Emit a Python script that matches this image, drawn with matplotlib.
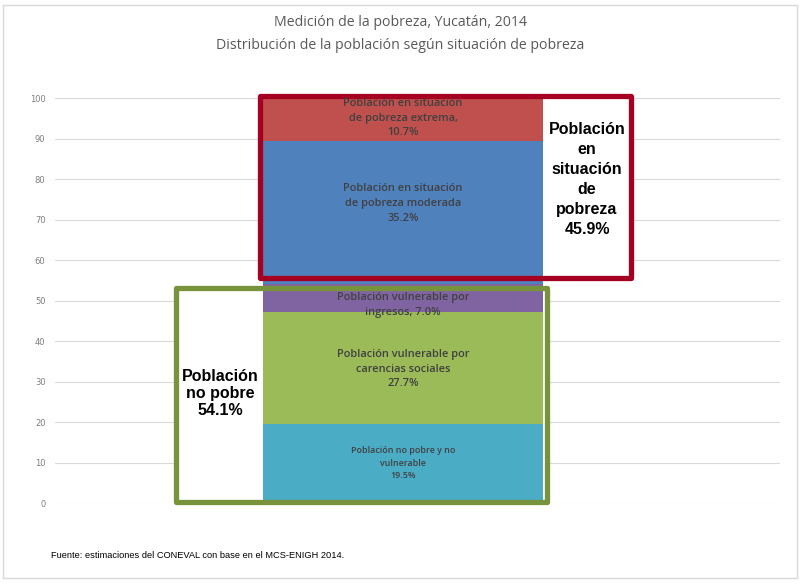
import matplotlib
matplotlib.use("Agg")
import matplotlib.pyplot as plt
from matplotlib.patches import Rectangle

# datos (porcentajes)
segmentos = ["no_pobre", "vul_carencias", "vul_ingresos", "pob_moderada", "pob_extrema"]
valores = [19.5, 27.7, 7.0, 35.2, 10.7]
colores = ["#4BACC6", "#9BBB59", "#8064A2", "#4F81BD", "#C0504D"]
etiquetas = [
    "Población no pobre y no\nvulnerable\n19.5%",
    "Población vulnerable por\ncarencias sociales\n27.7%",
    "Población vulnerable por\ningresos, 7.0%",
    "Población en situación\nde pobreza moderada\n35.2%",
    "Población en situación\nde pobreza extrema,\n10.7%",
]
etiqueta_size = [6.4, 7.9, 7.9, 7.9, 7.9]
etiqueta_dy = [0.15, -0.25, -1.8, 2.2, 0.3]
total_pobreza = 45.9
total_no_pobre = 54.1

fig = plt.figure(figsize=(8, 5.85), dpi=100)
fig.patch.set_facecolor("white")
fig.add_artist(Rectangle((0.004, 0.012), 0.992, 0.98, transform=fig.transFigure,
                         fill=False, edgecolor="#D9D9D9", linewidth=1))

ax = fig.add_axes([0.069, 0.140, 0.906, 0.6923])
ax.set_xlim(-0.243, 2.346)
ax.set_ylim(0, 100)
ax.set_yticks(range(0, 101, 10))
ax.set_xticks([])
ax.tick_params(axis="y", length=0, labelsize=6, labelcolor="#7F7F7F", pad=7)
for s in ax.spines.values():
    s.set_visible(False)
ax.grid(axis="y", color="#D9D9D9", linewidth=0.8, zorder=0)
ax.set_axisbelow(True)

# cajas de agrupacion
rojo = "#A50021"
verde = "#77933C"
caja_roja = (0.489, total_no_pobre + 1.4, 1.814 - 0.489, 100.6 - total_no_pobre - 1.4)
caja_verde = (0.189, 0.2, 1.514 - 0.189, total_no_pobre - 0.9 - 0.2)
for (x0, y0, w, h) in [caja_roja, caja_verde]:
    ax.add_patch(Rectangle((x0, y0), w, h, facecolor="white", edgecolor="none",
                           zorder=1, clip_on=False))

# barra apilada
base = 0
for v, c, lab, fs, dy in zip(valores, colores, etiquetas, etiqueta_size, etiqueta_dy):
    ax.bar(1, v, width=1.0, bottom=base, color=c, zorder=2)
    ax.text(1, base + v / 2 + dy, lab, ha="center", va="center", fontsize=fs,
            color="#404040", fontweight="semibold", family="Open Sans",
            linespacing=1.45, zorder=4)
    base += v

for (x0, y0, w, h), col in [(caja_roja, rojo), (caja_verde, verde)]:
    ax.add_patch(Rectangle((x0, y0), w, h, facecolor="none", edgecolor=col,
                           linewidth=3.8, zorder=3, clip_on=False,
                           joinstyle="round"))

ax.text(1.657, 80, "Población\nen\nsituación\nde\npobreza\n%.1f%%" % total_pobreza,
        ha="center", va="center", fontsize=11.5, fontweight="bold",
        family="Liberation Sans", color="black", linespacing=1.42, zorder=4)
ax.text(0.348, 27, "Población\nno pobre\n%.1f%%" % total_no_pobre,
        ha="center", va="center", fontsize=11.5, fontweight="bold",
        family="Liberation Sans", color="black", linespacing=1.15, zorder=4)

fig.text(0.5, 0.961, "Medición de la pobreza, Yucatán, 2014", ha="center", va="center",
         fontsize=10.2, color="#595959", family="Open Sans")
fig.text(0.5, 0.922, "Distribución de la población según situación de pobreza",
         ha="center", va="center", fontsize=10.2, color="#595959", family="Open Sans")

fig.text(0.064, 0.051, "Fuente: estimaciones del CONEVAL con base en el MCS-ENIGH 2014.",
         ha="left", va="center", fontsize=6.7, color="black", family="Liberation Sans")

fig.savefig("out.png", dpi=100)
